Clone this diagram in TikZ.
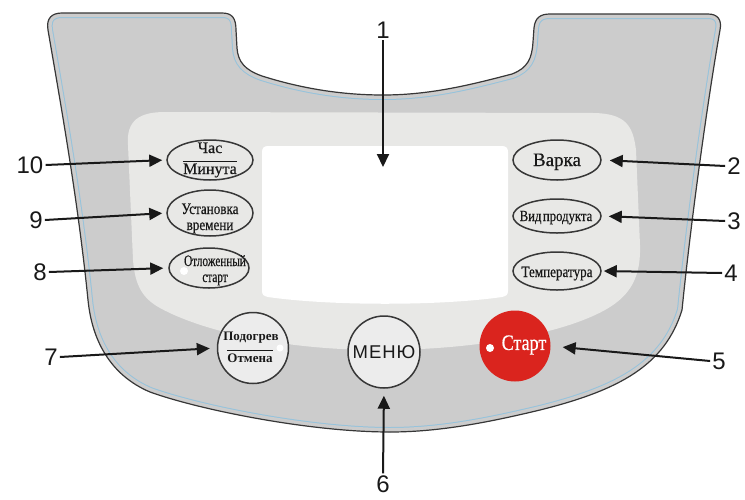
\documentclass[tikz,border=0pt]{standalone}
\usepackage{fontspec}
\setmainfont[FakeBold=0.5]{Liberation Serif}
\newfontfamily\numfont{Liberation Sans}
\newfontfamily\condfont[FakeStretch=0.82,FakeBold=0.5]{Liberation Serif}
\newfontfamily\narrowfont[FakeStretch=0.7,FakeBold=0.5]{Liberation Serif}
\newfontfamily\boldserif{Liberation Serif Bold}
\usetikzlibrary{arrows.meta,shapes.geometric}
\definecolor{panel}{RGB}{204,204,204}
\definecolor{lightp}{RGB}{232,232,230}
\definecolor{bluel}{RGB}{150,195,220}
\definecolor{edge}{RGB}{55,55,55}
\definecolor{btnfill}{RGB}{236,236,236}
\definecolor{startred}{RGB}{218,36,30}
\definecolor{ink}{RGB}{25,25,25}
\tikzset{
  arr/.style={draw=ink, line width=2pt, -{Triangle[length=13pt,width=12pt]}},
  num/.style={font=\numfont\fontsize{24}{28}\selectfont, inner sep=2pt, text=ink},
  oval/.style={ellipse, draw=edge, line width=1.5pt, inner sep=0pt},
  rbtn/.style={circle, draw=edge, line width=1.5pt, fill=btnfill, inner sep=0pt},
  lbl/.style={inner sep=0pt, text=ink, anchor=base},
  led/.style={circle, fill=white, inner sep=0pt, minimum size=7pt},
}
\def\outerpath{(48,30) .. controls (46,18) and (52,13) .. (62,13) -- (222,13) .. controls (232,13) and (236,18) .. (236,30) -- (237,48) .. controls (238,62) and (245,70) .. (262,76) .. controls (300,88) and (340,95) .. (383,95) .. controls (430,95) and (470,85) .. (512,74) .. controls (528,68) and (532,58) .. (533,42) -- (534,28) .. controls (535,18) and (540,14) .. (550,14) -- (708,14) .. controls (718,14) and (722,20) .. (720,30) .. controls (706,110) and (690,230) .. (682,310) .. controls (665,365) and (620,390) .. (540,410) .. controls (490,422) and (440,432) .. (390,432) .. controls (310,432) and (200,410) .. (150,392) .. controls (110,375) and (92,340) .. (88,300) .. controls (78,200) and (60,100) .. (48,30) -- cycle}
\begin{document}
\begin{tikzpicture}[x=1pt,y=-1pt]
\useasboundingbox (0,0) rectangle (745,499);
% panel
\fill[panel] \outerpath;
\begin{scope}
  \clip \outerpath;
  \draw[bluel, line width=10pt] \outerpath;
  \draw[panel, line width=8pt] \outerpath;
\end{scope}
\draw[edge, line width=1.2pt] \outerpath;
% light region
\fill[lightp] (128,145) .. controls (126,120) and (140,112) .. (165,112) -- (595,113) .. controls (625,114) and (633,125) .. (636,150) -- (640,245) .. controls (641,275) and (632,295) .. (605,310) .. controls (560,335) and (470,350) .. (380,350) .. controls (280,350) and (200,330) .. (160,308) .. controls (142,298) and (135,285) .. (133,260) -- cycle;
% display
\fill[white] (268,146) -- (502,146) .. controls (506,146) and (508,148) .. (508,152) -- (508,291) .. controls (508,295) and (506,296) .. (502,297) .. controls (440,306) and (330,306) .. (268,297) .. controls (264,296) and (262,295) .. (262,291) -- (262,152) .. controls (262,148) and (264,146) .. (268,146) -- cycle;
\coordinate (p1) at (383,167);
% left ovals
\node[oval, minimum width=86pt, minimum height=40pt] (hm) at (210,160) {};
\node[lbl, font=\fontsize{16}{17}\selectfont] (hm-a) at (210,153) {Час};
\node[lbl, font=\fontsize{16}{17}\selectfont] (hm-b) at (210,174) {Минута};
\draw[ink, line width=0.8pt] ([yshift=2pt]hm-b.north west) -- ([yshift=2pt]hm-b.north east);
\node[oval, minimum width=86pt, minimum height=46pt] (tset) at (210,213) {};
\node[lbl, font=\condfont\fontsize{16}{17}\selectfont] (tset-a) at (210,214) {Установка};
\node[lbl, font=\condfont\fontsize{16}{17}\selectfont] (tset-b) at (210,230) {времени};
\node[oval, minimum width=80pt, minimum height=40pt] (delay) at (209,268) {};
\node[lbl, font=\narrowfont\fontsize{16}{17}\selectfont] (delay-a) at (215,266) {Отложенный};
\node[lbl, font=\narrowfont\fontsize{16}{17}\selectfont] (delay-b) at (215,282) {старт};
\node[led, minimum size=8pt] (led1) at (184,271) {};
% right ovals
\node[oval, minimum width=88pt, minimum height=40pt] (cook) at (557,160) {};
\node[lbl, font=\fontsize{19}{20}\selectfont] (cook-t) at (557,166) {Варка};
\node[oval, minimum width=88pt, minimum height=34pt] (prod) at (557,216) {};
\node[lbl, font=\condfont\fontsize{15.5}{16}\selectfont] (prod-t) at (556,221) {Вид\hspace{1.5pt}продукта};
\node[oval, minimum width=88pt, minimum height=38pt] (temp) at (557,271) {};
\node[lbl, font=\condfont\fontsize{16}{17}\selectfont] (temp-t) at (557,277) {Температура};
% round buttons
\node[rbtn, minimum size=71pt] (warm) at (253,348) {};
\node[lbl, font=\boldserif\fontsize{13}{14}\selectfont] (warm-a) at (251,340) {Подогрев};
\node[lbl, font=\boldserif\fontsize{13}{14}\selectfont] (warm-b) at (250,362) {Отмена};
\draw[ink, line width=0.8pt] ([yshift=3pt]warm-b.north west) -- ([yshift=3pt]warm-b.north east);
\node[led, minimum size=7pt] (led2) at (280,348) {};
\node[rbtn, minimum size=72pt] (menu) at (384,352) {};
\node[inner sep=0pt, font=\numfont\fontsize{18.5}{20}\selectfont, text=ink] (menu-t) at (384,352) {М\kern1pt Е\kern1pt Н\kern1pt Ю};
\node[circle, fill=startred, inner sep=0pt, minimum size=71pt] (start) at (515,346) {};
\node[inner sep=0pt, font=\condfont\fontsize{22}{23}\selectfont, text=white] (start-t) at (524,345) {Старт};
\node[led, minimum size=8pt] (led3) at (490,348) {};
% numbers
\node[num] (n1) at (383,30) {1};
\node[num] (n2) at (734,166) {2};
\node[num] (n3) at (734,221) {3};
\node[num] (n4) at (731,273) {4};
\node[num] (n5) at (719,361) {5};
\node[num] (n6) at (383,484) {6};
\node[num] (n7) at (51,357) {7};
\node[num] (n8) at (40,272) {8};
\node[num] (n9) at (36,220) {9};
\node[num] (n10) at (30,165) {10};
% arrows
\draw[arr] (n1.south) -- (p1);
\draw[arr, shorten >=8pt] (n2.west) -- (cook.east);
\draw[arr, shorten >=7pt] (n3.west) -- (prod.east);
\draw[arr, shorten >=2pt] (n4.west) -- (temp.east);
\draw[arr, shorten >=12pt] (n5.west) -- (start.east);
\draw[arr, shorten >=7pt] (n6.north) -- (menu.south);
\draw[arr, shorten >=7pt] (n7.east) -- (warm.west);
\draw[arr, shorten >=5pt] (n8.east) -- (delay.west);
\draw[arr, shorten >=4pt] (n9.east) -- (tset.west);
\draw[arr, shorten >=4pt] (n10.east) -- (hm.west);
\end{tikzpicture}
\end{document}
